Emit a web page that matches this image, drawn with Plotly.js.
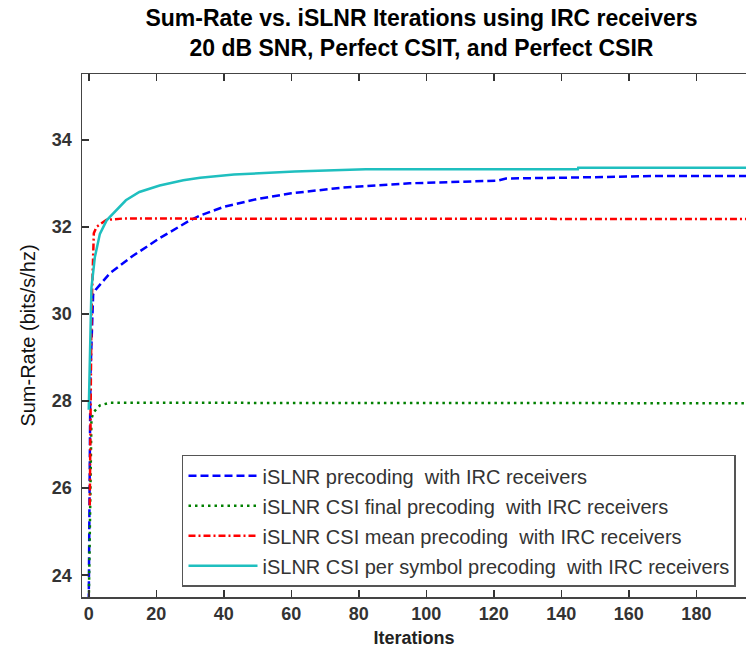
<!DOCTYPE html>
<html>
<head>
<meta charset="utf-8">
<script src="https://cdn.plot.ly/plotly-3.0.1.min.js"></script>
<style>html,body{margin:0;padding:0;background:#fff;}#chart{width:746px;height:653px;}</style>
</head>
<body>
<div id="chart"></div>
<script>
// Series names
const seriesNames = [
  "iSLNR precoding  with IRC receivers",
  "iSLNR CSI final precoding  with IRC receivers",
  "iSLNR CSI mean precoding  with IRC receivers",
  "iSLNR CSI per symbol precoding  with IRC receivers"
];

// iSLNR precoding (blue dashed)
const blueX = [0, 0.5, 1.3, 2, 6.2, 13, 21, 30, 33, 40, 50, 60, 75, 95, 121, 123.6, 141.6, 170, 195];
const blueY = [23.4, 28.6, 30.45, 30.55, 30.93, 31.33, 31.74, 32.15, 32.26, 32.46, 32.64, 32.77, 32.9, 33.0, 33.06, 33.11, 33.13, 33.17, 33.17];

// iSLNR CSI final (green dotted)
const greenX = [0, 0.8, 1.5, 3.3, 6.2, 195];
const greenY = [23.3, 27.6, 27.75, 27.9, 27.96, 27.95];

// iSLNR CSI mean (red dash-dot)
const redX = [0.3, 0.8, 1.5, 2.3, 5.2, 10, 195];
const redY = [25.6, 30.0, 31.85, 32.0, 32.16, 32.19, 32.18];

// iSLNR CSI per symbol (cyan solid)
const cyanX = [0, 0.3, 0.8, 1.8, 3.3, 5.3, 8, 11, 15, 21, 28, 33, 43, 61, 82, 144.9, 145, 195];
const cyanY = [27.8, 29.0, 30.6, 31.3, 31.84, 32.15, 32.38, 32.61, 32.8, 32.95, 33.07, 33.13, 33.2, 33.27, 33.32, 33.32, 33.36, 33.36];

// Tick values
const xTicks = [0, 20, 40, 60, 80, 100, 120, 140, 160, 180];
const yTicks = [24, 26, 28, 30, 32, 34];

const traces = [
  {x: blueX, y: blueY, name: seriesNames[0], legendgroup: 'a', mode: 'lines',
   line: {color: '#0000ff', width: 2.5, dash: '8px,4px'}},
  {x: greenX, y: greenY, name: seriesNames[1], legendgroup: 'b', mode: 'lines',
   line: {color: '#008000', width: 2.5, dash: '2.5px,4px'}},
  {x: redX, y: redY, name: seriesNames[2], legendgroup: 'c', mode: 'lines',
   line: {color: '#ff0000', width: 2.5, dash: '7px,3px,2px,3px'}},
  {x: cyanX, y: cyanY, name: seriesNames[3], legendgroup: 'd', mode: 'lines',
   line: {color: '#1fbfbf', width: 2.5}}
];

const layout = {
  width: 746, height: 653,
  margin: {l: 82, r: 0, t: 74, b: 56, pad: 0},
  paper_bgcolor: '#ffffff', plot_bgcolor: '#ffffff',
  font: {family: 'Liberation Sans, Arial, sans-serif', color: '#222'},
  showlegend: true,
  title: {
    text: '<b>Sum-Rate vs. iSLNR Iterations using IRC receivers<br>20 dB SNR, Perfect CSIT, and Perfect CSIR</b>',
    font: {size: 23, color: '#000', family: 'Liberation Sans, Arial, sans-serif'},
    x: 0.565, xref: 'container', xanchor: 'center',
    y: 0.96, yref: 'container', yanchor: 'top'
  },
  xaxis: {
    range: [-2, 194.7], tickvals: xTicks, ticktext: xTicks.map(String),
    showgrid: false, zeroline: false, showline: true, linecolor: '#444', linewidth: 1.5,
    mirror: 'ticks', ticks: 'inside', ticklen: 7, tickwidth: 1.5, tickcolor: '#333',
    tickfont: {size: 18, color: '#333', family: 'Liberation Sans, Arial, sans-serif', weight: 'bold'},
    title: {text: '<b>Iterations</b>', font: {size: 18, color: '#222'}, standoff: 8}
  },
  yaxis: {
    range: [23.5, 35.51], tickvals: yTicks, ticktext: yTicks.map(String),
    showgrid: false, zeroline: false, showline: true, linecolor: '#444', linewidth: 1.5,
    mirror: false, ticks: 'inside', ticklen: 7, tickwidth: 1.5, tickcolor: '#333',
    ticklabelstandoff: 5,
    tickfont: {size: 18, color: '#333', family: 'Liberation Sans, Arial, sans-serif', weight: 'bold'},
    title: {text: 'Sum-Rate (bits/s/hz)', font: {size: 20, color: '#111'}, standoff: 11}
  },
  legend: {
    x: 0.1506, y: 0.272, xanchor: 'left', yanchor: 'top',
    bgcolor: '#ffffff', bordercolor: '#555', borderwidth: 1.5,
    font: {size: 20, color: '#333', family: 'Liberation Sans, Arial, sans-serif'},
    itemwidth: 69, tracegroupgap: 1
  }
};

Plotly.newPlot('chart', traces, layout, {displayModeBar: false, staticPlot: true});
</script>
</body>
</html>
